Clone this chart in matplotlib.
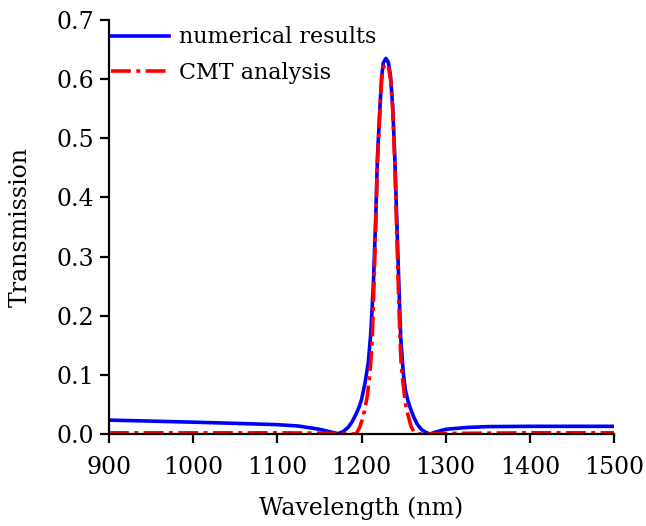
import numpy as np
import matplotlib
matplotlib.use("Agg")
import matplotlib.pyplot as plt

plt.rcParams['font.family'] = ['DejaVu Serif']

# numerical results
wl_num = [900, 950, 1000, 1050, 1100, 1125, 1150, 1162, 1172, 1178, 1184, 1189,
          1194, 1197, 1200, 1204, 1208, 1211, 1214, 1217, 1219, 1222, 1224, 1226,
          1229, 1232, 1234.5, 1237, 1239.5, 1241.5, 1244, 1246.5, 1249.5, 1252,
          1255, 1259, 1262, 1266, 1271, 1276, 1281, 1290, 1300, 1325, 1350, 1400,
          1450, 1500]
t_num = [0.0235, 0.0218, 0.020, 0.018, 0.0158, 0.0135, 0.008, 0.004, 0.0005,
         0.004, 0.011, 0.021, 0.035, 0.045, 0.058, 0.085, 0.12, 0.17, 0.25,
         0.37, 0.47, 0.555, 0.605, 0.628, 0.635, 0.628, 0.605, 0.555, 0.47,
         0.38, 0.27, 0.165, 0.105, 0.075, 0.057, 0.04, 0.029, 0.017, 0.008,
         0.003, 0.0, 0.004, 0.008, 0.011, 0.0125, 0.013, 0.013, 0.013]

# CMT analysis
wl_cmt = [900, 1000, 1100, 1150, 1180, 1190, 1194, 1198, 1202, 1205, 1207, 1209,
          1211, 1213, 1215, 1217, 1219, 1222, 1224, 1226, 1229, 1232, 1234.5,
          1237, 1239.5, 1241.5, 1243.5, 1245.5, 1247, 1249, 1251, 1253, 1256,
          1259, 1263, 1270, 1300, 1400, 1500]
t_cmt = [0.002, 0.002, 0.002, 0.0015, 0.0005, 0.0, 0.001, 0.012, 0.029, 0.05,
         0.065, 0.09, 0.12, 0.17, 0.26, 0.36, 0.46, 0.55, 0.60, 0.62, 0.626,
         0.62, 0.60, 0.55, 0.46, 0.36, 0.26, 0.17, 0.12, 0.09, 0.065, 0.045,
         0.028, 0.012, 0.002, 0.0, 0.001, 0.002, 0.002]

fig = plt.figure(figsize=(6.46, 5.26), dpi=100)
ax = fig.add_axes([0.1687, 0.1749, 0.7818, 0.7871])

ax.plot(wl_num, t_num, color='#0000ff', lw=2.6, label='numerical results')
ax.plot(wl_cmt, t_cmt, color='#ff0000', lw=2.6, dashes=(5.5, 1.5, 1.1, 1.5),
        label='CMT analysis')

ax.set_xlim(900, 1500)
ax.set_ylim(0, 0.7)
ax.set_xticks(np.arange(900, 1501, 100))
ax.set_yticks(np.arange(0, 0.71, 0.1))
ax.yaxis.set_major_formatter(plt.FormatStrFormatter('%.1f'))
ax.tick_params(direction='out', length=6.5, width=1.6, labelsize=17)
ax.tick_params(axis='x', pad=9)
ax.tick_params(axis='y', pad=4)

for s in ['top', 'right']:
    ax.spines[s].set_visible(False)
for s in ['left', 'bottom']:
    ax.spines[s].set_linewidth(1.6)

ax.set_xlabel('Wavelength (nm)', fontsize=17, labelpad=13)
ax.set_ylabel('Transmission', fontsize=17, labelpad=18)

ax.legend(loc='upper left', bbox_to_anchor=(0.0, 0.99), frameon=False,
          fontsize=16, handlelength=2.6, handletextpad=0.45, borderaxespad=0,
          borderpad=0.1, labelspacing=0.62)

fig.savefig('out.png', dpi=100)
